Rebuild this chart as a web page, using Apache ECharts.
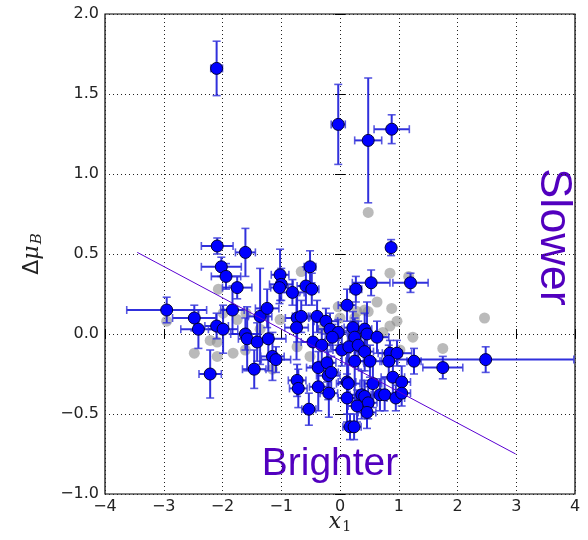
<!DOCTYPE html>
<html>
<head>
<meta charset="UTF-8">
<script type="text/javascript" src="https://cdn.jsdelivr.net/npm/echarts@6/dist/echarts.min.js"></script>
<title>delta mu vs x1</title>
<style>
  html, body { margin: 0; padding: 0; background: #fff; }
  #main { width: 588px; height: 540px; }
</style>
</head>
<body>
<div id="main"></div>
<script>
// blue points with symmetric error bars
var blueX    = [-2.10,-0.03, 0.48, 0.88, 0.87,-2.09,-1.61,-2.02,-1.94,-1.75,
                -2.95,-2.48,-2.41,-2.10,-1.99,-1.83,-1.61,-1.58,-1.41,-1.36,
                -1.24,-1.22,-1.02,-1.00,-1.03,-0.81,-0.51,-0.58,-0.48,-0.73,
                -0.66,-0.74,-0.39,-0.24,-0.17,-0.03, 0.12,-0.46,-0.31,-2.21,
                -1.46,-1.15,-1.09,-0.73,-0.71,-0.53,-0.37,-0.37,-0.22,-0.20,
                -0.19,-0.15, 0.12, 0.12, 0.53, 1.20, 0.27, 0.22, 0.42,-0.13,
                 0.25, 0.46, 0.63, 0.03, 0.15, 0.31, 0.42, 0.25, 0.51, 0.85,
                 0.97, 1.26, 1.75, 2.48, 0.14, 0.56, 0.90, 1.05, 0.37, 0.42,
                 0.68, 0.76, 0.95, 1.05, 0.48, 0.29, 0.46, 0.17, 0.24, 0.83];
var blueY    = [ 1.66, 1.31, 1.21, 1.28, 0.54, 0.55, 0.51, 0.42, 0.36, 0.29,
                 0.15, 0.10, 0.03, 0.05, 0.03, 0.15, 0.00,-0.03,-0.05, 0.11,
                 0.16,-0.03, 0.37, 0.31, 0.29, 0.26, 0.42, 0.30, 0.28, 0.10,
                 0.11, 0.04, 0.11, 0.08, 0.03, 0.01, 0.18,-0.05,-0.07,-0.25,
                -0.22,-0.14,-0.16,-0.29,-0.34,-0.47,-0.21,-0.33,-0.18,-0.26,
                -0.37,-0.24,-0.30,-0.40, 0.32, 0.32, 0.28, 0.04, 0.03,-0.02,
                -0.02, 0.00,-0.02,-0.10,-0.08,-0.07,-0.11,-0.17,-0.17,-0.12,
                -0.12,-0.17,-0.21,-0.16,-0.31,-0.31,-0.27,-0.30,-0.38,-0.39,
                -0.38,-0.38,-0.40,-0.37,-0.43,-0.45,-0.49,-0.58,-0.58,-0.17];
var blueXErr = [ 0.10, 0.12, 0.23, 0.30, 0.06, 0.27, 0.17, 0.34, 0.25, 0.25,
                 0.68, 0.37, 0.30, 0.20, 0.25, 0.20, 0.25, 0.15, 0.20, 0.20,
                 0.20, 0.30, 0.15, 0.20, 0.15, 0.20, 0.10, 0.15, 0.12, 0.20,
                 0.15, 0.20, 0.15, 0.20, 0.20, 0.15, 0.15, 0.20, 0.15, 0.19,
                 0.20, 0.20, 0.25, 0.15, 0.15, 0.12, 0.20, 0.15, 0.15, 0.20,
                 0.15, 0.12, 0.15, 0.15, 0.32, 0.30, 0.10, 0.15, 0.12, 0.12,
                 0.12, 0.15, 0.20, 0.15, 0.10, 0.12, 0.15, 0.15, 0.20, 0.20,
                 0.25, 0.12, 0.34, 1.50, 0.20, 0.15, 0.20, 0.15, 0.20, 0.15,
                 0.15, 0.20, 0.15, 0.15, 0.15, 0.15, 0.15, 0.12, 0.12, 0.15];
var blueYErr = [ 0.17, 0.25, 0.39, 0.09, 0.05, 0.05, 0.15, 0.06, 0.08, 0.07,
                 0.08, 0.08, 0.12, 0.08, 0.15, 0.15, 0.10, 0.20, 0.12, 0.30,
                 0.12, 0.20, 0.16, 0.10, 0.10, 0.08, 0.10, 0.12, 0.10, 0.15,
                 0.10, 0.20, 0.10, 0.08, 0.10, 0.08, 0.10, 0.15, 0.10, 0.15,
                 0.12, 0.15, 0.08, 0.10, 0.12, 0.10, 0.10, 0.15, 0.12, 0.15,
                 0.15, 0.10, 0.20, 0.15, 0.08, 0.06, 0.08, 0.10, 0.10, 0.08,
                 0.12, 0.20, 0.10, 0.10, 0.10, 0.15, 0.12, 0.25, 0.10, 0.08,
                 0.08, 0.08, 0.07, 0.08, 0.12, 0.15, 0.10, 0.10, 0.15, 0.10,
                 0.10, 0.10, 0.08, 0.08, 0.10, 0.10, 0.10, 0.08, 0.08, 0.10];

// grey background points (no error bars)
var greyX = [ 0.48,-0.66,-2.07,-1.99,-1.75,-1.60,-1.36,-1.02,-2.21,-2.09,
             -0.73,-0.03, 0.00, 0.85, 1.17, 0.63, 0.42, 0.48, 0.88, 0.97,
              0.85, 1.24, 1.75, 2.46, 1.02, 0.73,-2.48,-2.09,-2.95,-1.82,
             -1.61,-1.15,-0.51, 0.25,-0.31, 0.29];
var greyY = [ 0.76, 0.39, 0.28, 0.13, 0.09, 0.13, 0.03, 0.09,-0.04,-0.05,
             -0.08, 0.17, 0.10, 0.38, 0.36, 0.20, 0.15, 0.14, 0.16, 0.08,
              0.05,-0.02,-0.09, 0.10,-0.10, 0.01,-0.12,-0.14, 0.08,-0.12,
             -0.10,-0.22,-0.14, 0.10, 0.03, 0.14];

// fitted line
var fitX = [-3.45, 2.99];
var fitY = [ 0.51,-0.75];

var xTicks = [-4, -3, -2, -1, 0, 1, 2, 3, 4];
var yTicks = [-1.0, -0.5, 0.0, 0.5, 1.0, 1.5, 2.0];

var blueData = [], greyData = [], fitData = [];
for (var i = 0; i < blueX.length; i++) {
	blueData.push([blueX[i], blueY[i], blueXErr[i], blueYErr[i]]);
}
for (var i = 0; i < greyX.length; i++) {
	greyData.push([greyX[i], greyY[i]]);
}
for (var i = 0; i < fitX.length; i++) {
	fitData.push([fitX[i], fitY[i]]);
}

function minus(v) {
	return String(v).replace('-', '\u2212');
}

var tickFont = { fontFamily: 'DejaVu Sans', fontSize: 16, color: '#222' };
var dotted = { color: '#222', width: 1, type: [1, 3] };

var myChart = echarts.init(document.getElementById('main'), null, { renderer: 'canvas' });

myChart.setOption({
	animation: false,
	grid: {
		left: 105, right: 13, top: 14, bottom: 46,
		outerBoundsMode: 'none',
		containLabel: false,
		show: true, borderColor: '#000', borderWidth: 1.2, backgroundColor: 'transparent'
	},
	xAxis: [{
		type: 'value', min: xTicks[0], max: xTicks[xTicks.length - 1], interval: 1,
		axisLine: { show: false },
		axisTick: { show: true, inside: true, length: 5, lineStyle: { color: '#000' } },
		axisLabel: Object.assign({ margin: 5, formatter: function(v) { return minus(v); } }, tickFont),
		splitLine: { show: true, lineStyle: dotted }
	}, {
		type: 'value', position: 'top', min: xTicks[0], max: xTicks[xTicks.length - 1], interval: 1,
		axisLine: { show: false },
		axisTick: { show: true, inside: true, length: 5, lineStyle: { color: '#000' } },
		axisLabel: { show: false },
		splitLine: { show: false }
	}],
	yAxis: [{
		type: 'value', min: yTicks[0], max: yTicks[yTicks.length - 1], interval: 0.5,
		axisLine: { show: false },
		axisTick: { show: true, inside: true, length: 5, lineStyle: { color: '#000' } },
		axisLabel: Object.assign({ margin: 6, formatter: function(v) { return minus(v.toFixed(1)); } }, tickFont),
		splitLine: { show: true, lineStyle: dotted },
		name: '{d|\u0394}{m|\u03bc}{s|B}',
		nameLocation: 'middle',
		nameRotate: 90,
		nameGap: 60,
		nameTextStyle: {
			rich: {
				d: { fontFamily: 'DejaVu Sans', fontSize: 22, color: '#222' },
				m: { fontFamily: 'DejaVu Serif', fontStyle: 'italic', fontSize: 22, color: '#222' },
				s: { fontFamily: 'DejaVu Serif', fontStyle: 'italic', fontSize: 15, color: '#222', padding: [10, 0, 0, 1] }
			}
		}
	}, {
		type: 'value', position: 'right', min: yTicks[0], max: yTicks[yTicks.length - 1], interval: 0.5,
		axisLine: { show: false },
		axisTick: { show: true, inside: true, length: 5, lineStyle: { color: '#000' } },
		axisLabel: { show: false },
		splitLine: { show: false }
	}],
	series: [
		{
			name: 'grey',
			type: 'scatter',
			z: 2,
			symbolSize: 11,
			itemStyle: { color: '#8c8c8c', opacity: 0.6 },
			data: greyData
		},
		{
			name: 'errors',
			type: 'custom',
			z: 3,
			encode: { x: 0, y: 1 },
			renderItem: function(params, api) {
				var x = api.value(0), y = api.value(1), xe = api.value(2), ye = api.value(3);
				var l = api.coord([x - xe, y]), r = api.coord([x + xe, y]);
				var t = api.coord([x, y + ye]), b = api.coord([x, y - ye]);
				var cap = 4;
				var st = { stroke: '#1a1ad8', lineWidth: 2, opacity: 0.9 };
				var capSt = { stroke: '#3c3cdc', lineWidth: 1.6, opacity: 0.85 };
				return {
					type: 'group',
					children: [
						{ type: 'line', shape: { x1: l[0], y1: l[1], x2: r[0], y2: r[1] }, style: st },
						{ type: 'line', shape: { x1: t[0], y1: t[1], x2: b[0], y2: b[1] }, style: st },
						{ type: 'line', shape: { x1: l[0], y1: l[1] - cap, x2: l[0], y2: l[1] + cap }, style: capSt },
						{ type: 'line', shape: { x1: r[0], y1: r[1] - cap, x2: r[0], y2: r[1] + cap }, style: capSt },
						{ type: 'line', shape: { x1: t[0] - cap, y1: t[1], x2: t[0] + cap, y2: t[1] }, style: capSt },
						{ type: 'line', shape: { x1: b[0] - cap, y1: b[1], x2: b[0] + cap, y2: b[1] }, style: capSt }
					]
				};
			},
			data: blueData
		},
		{
			name: 'blue',
			type: 'scatter',
			z: 4,
			symbolSize: 12,
			itemStyle: { color: '#0000ff', borderColor: '#00003a', borderWidth: 1, opacity: 1 },
			data: blueData
		},
		{
			name: 'fit',
			type: 'line',
			z: 5,
			symbol: 'none',
			lineStyle: { color: '#5a00d2', width: 1 },
			data: fitData
		}
	],
	graphic: [
		{
			// x-axis title
			type: 'text',
			x: 340, y: 522,
			style: {
				text: '{x|x}{s|1}',
				align: 'center',
				verticalAlign: 'middle',
				rich: {
					x: { fontFamily: 'DejaVu Serif', fontStyle: 'italic', fontSize: 22, fill: '#222' },
					s: { fontFamily: 'DejaVu Serif', fontSize: 14, fill: '#222', padding: [10, 0, 0, 1] }
				}
			}
		},
		{
			type: 'text',
			x: 553, y: 237,
			rotation: -Math.PI / 2,
			style: {
				text: 'Slower',
				font: '45px "Liberation Sans", Arial, sans-serif',
				fill: '#5200bf',
				align: 'center',
				verticalAlign: 'middle'
			}
		},
		{
			type: 'text',
			x: 330, y: 464,
			style: {
				text: 'Brighter',
				font: '39px "Liberation Sans", Arial, sans-serif',
				fill: '#5200bf',
				align: 'center',
				verticalAlign: 'middle'
			}
		}
	]
});
</script>
</body>
</html>
